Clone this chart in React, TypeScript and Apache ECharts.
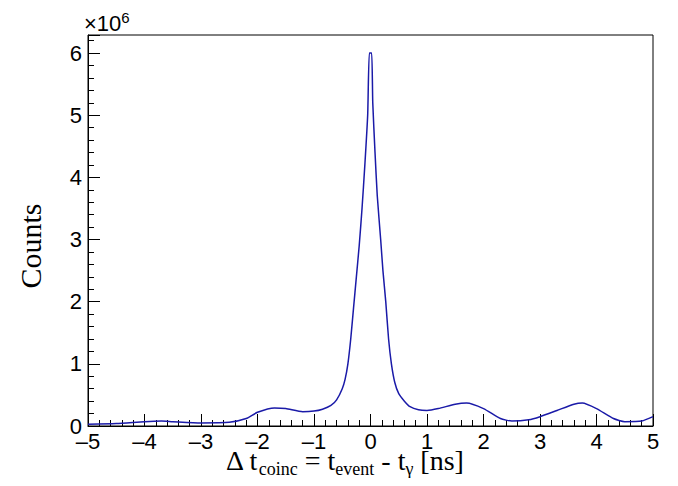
import { useEffect, useRef } from 'react';
import * as echarts from 'echarts';

// bin centres in ns
const tValues = [
  -5, -4.5, -4, -3.7, -3.5, -3, -2.5, -2.2, -2, -1.7, -1.5, -1.2, -1, -0.85, -0.7, -0.6, -0.5, -0.45,
  -0.4, -0.35, -0.3, -0.25, -0.2, -0.15, -0.1, -0.05, -0.02, 0.02, 0.04, 0.08, 0.12, 0.18, 0.22, 0.27,
  0.32, 0.37, 0.43, 0.5, 0.6, 0.7, 0.85, 1, 1.2, 1.5, 1.7, 2, 2.3, 2.5, 2.8, 3, 3.3, 3.6, 3.75, 4,
  4.3, 4.5, 4.8, 5,
];
// counts in units of 1e6
const counts = [
  0.03, 0.04, 0.07, 0.08, 0.07, 0.05, 0.06, 0.12, 0.22, 0.29, 0.28, 0.23, 0.24, 0.27, 0.33, 0.42, 0.6, 0.75,
  1.0, 1.4, 1.9, 2.4, 2.9, 3.5, 4.2, 5.0, 6.0, 6.0, 5.2, 4.4, 3.7, 3.0, 2.5, 2.0,
  1.4, 1.0, 0.7, 0.52, 0.4, 0.31, 0.26, 0.25, 0.28, 0.35, 0.37, 0.28, 0.12, 0.08, 0.1, 0.15, 0.25, 0.35, 0.37, 0.28,
  0.12, 0.07, 0.08, 0.15,
];

const SERIF = '"Liberation Serif", serif';
const SANS = '"Liberation Sans", Arial, sans-serif';

export default function App() {
  const el = useRef<HTMLDivElement>(null);

  useEffect(() => {
    if (!el.current) return;
    const chart = echarts.init(el.current, undefined, { renderer: 'svg' });
    const axisLabel = { color: '#000', fontFamily: SANS, fontSize: 22 };
    chart.setOption({
      animation: false,
      grid: { left: 80, right: 17, top: 27, bottom: 52, show: true, borderColor: '#000', borderWidth: 1 },
      xAxis: {
        type: 'value', min: -5, max: 5, interval: 1,
        axisLine: { onZero: false, lineStyle: { color: '#000' } },
        axisTick: { inside: true, length: 12, lineStyle: { color: '#000' } },
        minorTick: { show: true, splitNumber: 5, length: 6, lineStyle: { color: '#000' } },
        splitLine: { show: false },
        axisLabel: { ...axisLabel, margin: 4, formatter: (v: number) => String(v).replace('-', '–') },
      },
      yAxis: {
        type: 'value', min: 0, max: 6.29, interval: 1,
        axisLine: { show: true, onZero: false, lineStyle: { color: '#000' } },
        axisTick: { show: true, inside: true, length: 12, lineStyle: { color: '#000' } },
        minorTick: { show: true, splitNumber: 5, length: 6, lineStyle: { color: '#000' } },
        splitLine: { show: false },
        axisLabel: { ...axisLabel, margin: 6, formatter: (v: number) => (Number.isInteger(v) ? String(v) : '') },
      },
      graphic: [
        {
          type: 'text', left: 76, top: 2,
          style: {
            text: '{a|×10}{b|6}',
            rich: {
              a: { fontFamily: SANS, fontSize: 22, fill: '#000' },
              b: { fontFamily: SANS, fontSize: 15, fill: '#000', padding: [0, 0, 12, 0] },
            },
          },
        },
        {
          type: 'text', x: 22, y: 238, rotation: Math.PI / 2,
          style: {
            text: 'Counts', fontFamily: SERIF, fontSize: 30, fill: '#000',
            align: 'center', verticalAlign: 'middle',
          },
        },
        {
          type: 'text', left: 218, top: 438,
          style: {
            text: '{n|Δ t}{s|coinc}{n| = t}{s|event}{n| - t}{s|γ}{n| [ns]}',
            rich: {
              n: { fontFamily: SERIF, fontSize: 28, fill: '#000', verticalAlign: 'top' },
              s: { fontFamily: SERIF, fontSize: 18, fill: '#000', verticalAlign: 'top', padding: [14, 0, 0, 0] },
            },
          },
        },
      ],
      series: [
        {
          type: 'line',
          data: tValues.map((t, i) => [t, counts[i]]),
          showSymbol: false,
          smooth: 0.2,
          lineStyle: { color: '#1a1aa8', width: 1.5 },
        },
      ],
    });
    return () => chart.dispose();
  }, []);

  return <div ref={el} style={{ width: 662, height: 470 }} />;
}
